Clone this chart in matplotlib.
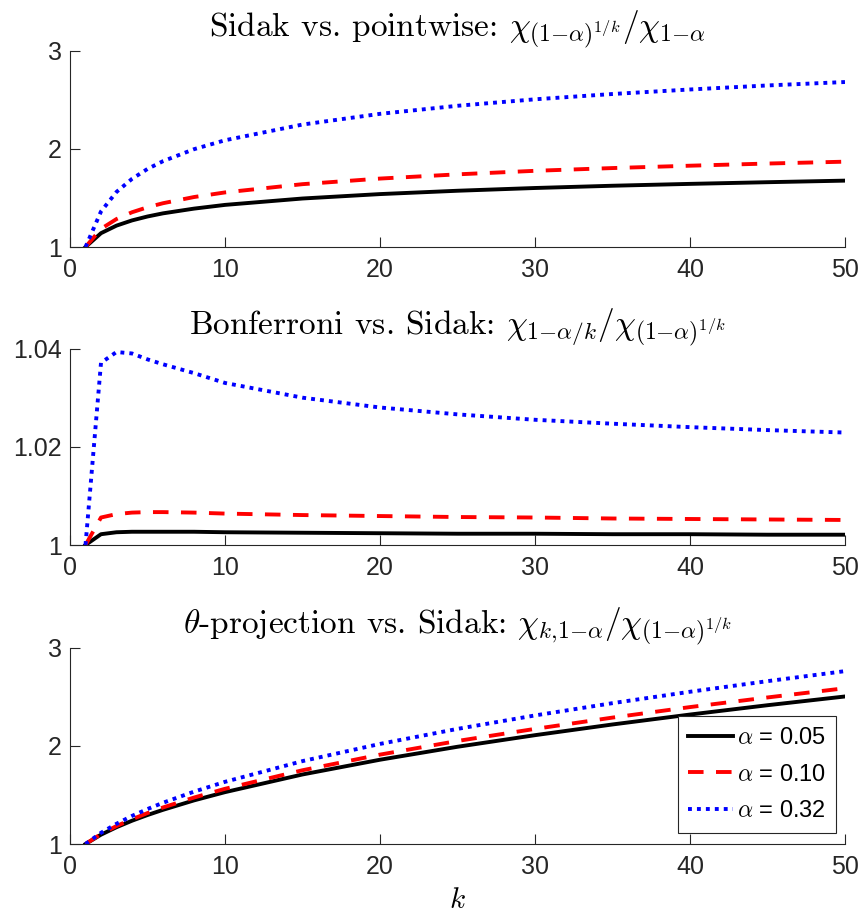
import matplotlib
matplotlib.use("Agg")
import matplotlib.pyplot as plt

plt.rcParams["mathtext.fontset"] = "cm"
plt.rcParams["font.family"] = ["Liberation Sans", "DejaVu Sans"]

# number of hypotheses
k = [1, 2, 3, 4, 5, 6, 8, 10, 15, 20, 25, 30, 35, 40, 45, 50]
alphas = ["0.05", "0.10", "0.32"]

# Sidak vs. pointwise
sidak_pw_05 = [1.0, 1.141, 1.218, 1.271, 1.311, 1.343, 1.391, 1.429, 1.494, 1.539, 1.573, 1.601, 1.624, 1.643, 1.660, 1.676]
sidak_pw_10 = [1.0, 1.185, 1.285, 1.354, 1.405, 1.446, 1.509, 1.556, 1.640, 1.697, 1.740, 1.776, 1.804, 1.828, 1.850, 1.869]
sidak_pw_32 = [1.0, 1.362, 1.561, 1.694, 1.795, 1.874, 1.996, 2.087, 2.247, 2.356, 2.438, 2.504, 2.558, 2.604, 2.645, 2.680]

# Bonferroni vs. Sidak
bonf_05 = [1.0, 1.0022, 1.0026, 1.0027, 1.0027, 1.0027, 1.0027, 1.0026, 1.0025, 1.0024, 1.0023, 1.0023, 1.0022, 1.0022, 1.0021, 1.0021]
bonf_10 = [1.0, 1.0056, 1.0063, 1.0066, 1.0067, 1.0067, 1.0066, 1.0064, 1.0061, 1.0059, 1.0057, 1.0056, 1.0054, 1.0053, 1.0052, 1.0051]
bonf_32 = [1.0, 1.0371, 1.0393, 1.0390, 1.0378, 1.0368, 1.0350, 1.0330, 1.0300, 1.0280, 1.0266, 1.0255, 1.0247, 1.0240, 1.0234, 1.0229]

# theta-projection vs. Sidak
proj_05 = [1.0, 1.095, 1.171, 1.237, 1.295, 1.348, 1.444, 1.528, 1.708, 1.858, 1.990, 2.108, 2.217, 2.318, 2.413, 2.502]
proj_10 = [1.0, 1.101, 1.183, 1.252, 1.315, 1.372, 1.473, 1.562, 1.751, 1.910, 2.049, 2.172, 2.287, 2.394, 2.492, 2.586]
proj_32 = [1.0, 1.114, 1.206, 1.286, 1.356, 1.420, 1.533, 1.633, 1.844, 2.019, 2.172, 2.309, 2.434, 2.550, 2.658, 2.760]

titles = [
    r"Sidak vs. pointwise: $\chi_{(1{-}\alpha)^{1/k}}/\chi_{1{-}\alpha}$",
    r"Bonferroni vs. Sidak: $\chi_{1{-}\alpha/k}/\chi_{(1{-}\alpha)^{1/k}}$",
    r"$\theta$-projection vs. Sidak: $\chi_{k{,}1{-}\alpha}/\chi_{(1{-}\alpha)^{1/k}}$",
]
panels = [
    (sidak_pw_05, sidak_pw_10, sidak_pw_32),
    (bonf_05, bonf_10, bonf_32),
    (proj_05, proj_10, proj_32),
]
ylims = [(1, 3), (1, 1.04), (1, 3)]
yticks = [[1, 2, 3], [1, 1.02, 1.04], [1, 2, 3]]
yticklabels = [["1", "2", "3"], ["1", "1.02", "1.04"], ["1", "2", "3"]]

fig = plt.figure(figsize=(8.61, 9.18), dpi=100)
bottoms = [0.7309, 0.4063, 0.0806]
axc = "#262626"

for i in range(3):
    ax = fig.add_axes([0.0813, bottoms[i], 0.9001, 0.2140])
    s05, s10, s32 = panels[i]
    ax.plot(k, s05, color="black", lw=2.8, ls="-", label=r"$\alpha$ = " + alphas[0])
    ax.plot(k, s10, color="red", lw=2.8, ls=(0, (4, 3.2)), label=r"$\alpha$ = " + alphas[1])
    ax.plot(k, s32, color="blue", lw=2.8, ls=(0, (1, 1.3)), label=r"$\alpha$ = " + alphas[2])
    ax.set_xlim(0, 50)
    ax.set_ylim(*ylims[i])
    ax.set_xticks([0, 10, 20, 30, 40, 50])
    ax.set_yticks(yticks[i])
    ax.set_yticklabels(yticklabels[i])
    ax.spines["top"].set_visible(False)
    ax.spines["right"].set_visible(False)
    for sp in ["left", "bottom"]:
        ax.spines[sp].set_color(axc)
        ax.spines[sp].set_linewidth(0.8)
    ax.tick_params(direction="in", length=7, width=0.8, color=axc,
                   labelsize=18, labelcolor=axc)
    ax.tick_params(axis="x", pad=8)
    ax.tick_params(axis="y", pad=6)
    ax.set_title(titles[i], fontsize=24, family="cmr10", pad=8)

    if i == 2:
        ax.set_xlabel(r"$k$", fontsize=21, labelpad=5)
        leg = ax.legend(loc="lower right", fontsize=17, handlelength=1.9,
                        handletextpad=0.15, borderpad=0.45, labelspacing=0.62,
                        fancybox=False, framealpha=1, borderaxespad=0,
                        bbox_to_anchor=(0.989, 0.056))
        leg.get_frame().set_edgecolor(axc)
        leg.get_frame().set_linewidth(0.8)

fig.savefig("out.png", dpi=100)
